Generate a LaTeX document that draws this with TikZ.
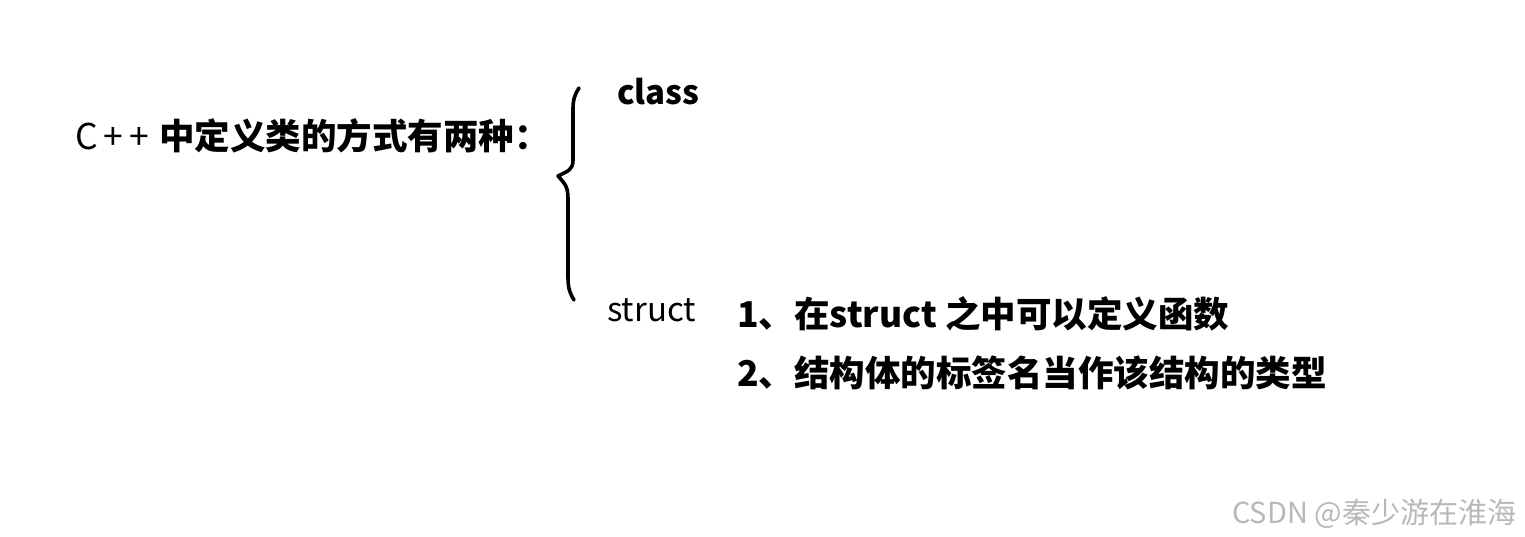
\documentclass[tikz,border=0pt]{standalone}
\usepackage{fontspec}
\newfontfamily\cjk{Noto Sans CJK SC}
\usetikzlibrary{positioning}

\begin{document}
\begin{tikzpicture}[
  x=1pt, y=-1pt,
  txt/.style={anchor=base west, inner sep=0pt, font=\cjk\fontsize{33}{40}\selectfont},
  boldtxt/.style={txt, font=\cjk\bfseries\fontsize{33}{40}\selectfont},
  bigtxt/.style={txt, font=\cjk\bfseries\fontsize{35.5}{42}\selectfont},
  brace/.style={line width=3.6pt, line cap=round, line join=round}
]
\useasboundingbox (0,0) rectangle (1525,537);

\node[txt, font=\cjk\fontsize{35.5}{42}\selectfont] (title) at (75,150)
  {C\kern6pt+\kern6pt+\kern10pt{\bfseries 中定义类的方式有两种：}};
\node[boldtxt] (class) at (617,105) {class};
\node[txt] (struct) at (607,321) {struct};
\node[bigtxt] (item1) at (737,327) {1、在struct 之中可以定义函数};
\node[bigtxt] (item2) at (737,386) {2、结构体的标签名当作该结构的类型};

% hand-drawn brace
\draw[brace] (579,88) .. controls (574,96) and (573,100) .. (573,110)
  -- (573,160) .. controls (573,170) and (568,171) .. (558,176)
  .. controls (566,185) and (568,187) .. (568,200)
  -- (568,278) .. controls (568,290) and (571,295) .. (574,300);

% watermark
\node[txt, font=\cjk\fontsize{29}{34}\selectfont, text=black!28] (mark) at (1232,523) {CSDN @秦少游在淮海};
\end{tikzpicture}
\end{document}
